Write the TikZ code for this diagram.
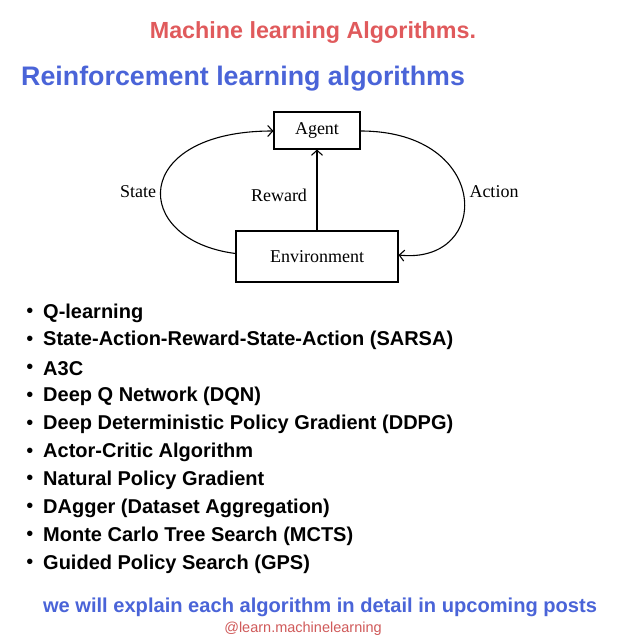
\documentclass[tikz,border=0pt]{standalone}
\usepackage{fontspec}
\usepackage{xcolor}
\setmainfont{Liberation Serif}
\newfontfamily\headfont{Liberation Sans}
\usetikzlibrary{calc,arrows.meta}
\definecolor{titlered}{HTML}{E05A5C}
\definecolor{tagred}{HTML}{D05A5A}
\definecolor{headblue}{HTML}{4A64D8}
\tikzset{
  >={Straight Barb[length=5pt,width=11pt,line width=1.1pt]},
  box/.style={draw, line width=1.1pt, inner sep=0pt, font=\fontsize{18}{20}\selectfont},
  lbl/.style={font=\fontsize{18}{20}\selectfont},
  algo/.style={anchor=west, inner sep=0pt, font=\headfont\bfseries\fontsize{20}{22}\selectfont}
}

\begin{document}
\begin{tikzpicture}[x=1pt,y=-1pt]
  \useasboundingbox[fill=white] (0,0) rectangle (640,640);
  \node[titlered, font=\headfont\bfseries\fontsize{23.3}{26}\selectfont] (title) at (313,33) {Machine learning Algorithms.};
  \node[headblue, anchor=west, inner sep=0pt, font=\headfont\bfseries\fontsize{26.8}{30}\selectfont] (subtitle) at (21,79) {Reinforcement learning algorithms};
  \node[box, minimum width=86pt, minimum height=37pt] (agent) at (317,130.5) {Agent};
  \node[box, minimum width=162pt, minimum height=51pt] (env) at (317,256.5) {Environment};
  \draw[line width=1.1pt, ->] (env) -- (agent); % reward
  \draw[line width=1.1pt, ->] ($(env.west)+(0,-3)$) .. controls (130,240) and (130,131) .. ($(agent.west)+(0,0.5)$); % state
  \draw[line width=1.1pt, ->] ($(agent.east)+(0,0.5)$) .. controls (492,131) and (492,265) .. ($(env.east)+(0,-1.5)$); % action
  \node[lbl] (state) at (138,192) {State};
  \node[lbl] (reward) at (279,195) {Reward};
  \node[lbl] (action) at (494,192) {Action};
  \foreach \txt [count=\i] in {Q-learning, State-Action-Reward-State-Action (SARSA), A3C, Deep Q Network (DQN), Deep Deterministic Policy Gradient (DDPG), Actor-Critic Algorithm, Natural Policy Gradient, DAgger (Dataset Aggregation), Monte Carlo Tree Search (MCTS), Guided Policy Search (GPS)}
  {
    \node[font=\headfont\fontsize{20}{22}\selectfont] (dot\i) at (30,285+27.9*\i) {\textbullet};
    \node[algo] (algo\i) at (43,285+27.9*\i) {\txt};
  }
  \node[headblue, font=\headfont\bfseries\fontsize{20.1}{22}\selectfont] (note) at (320,607) {we will explain each algorithm in detail in upcoming posts};
  \node[tagred, font=\headfont\fontsize{14.5}{16}\selectfont] (tag) at (303,629) {@learn.machinelearning};
\end{tikzpicture}
\end{document}
